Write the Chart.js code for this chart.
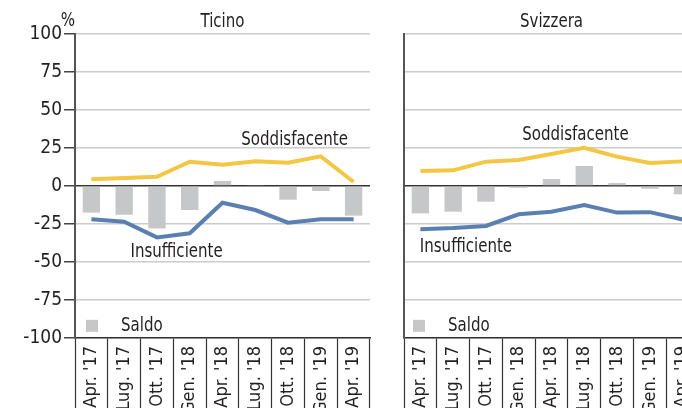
<!DOCTYPE html>
<html>
<head>
<meta charset="utf-8">
<script src="https://cdn.jsdelivr.net/npm/chart.js@4/dist/chart.umd.min.js"></script>
<style>
  html, body { margin: 0; padding: 0; background: #fff; overflow: hidden; width: 682px; height: 408px; }
  #wrap { position: relative; width: 682px; height: 408px; overflow: hidden; }
  canvas { position: absolute; top: 0; }
  #ticino { left: 0; }
  #svizzera { left: 380px; }
</style>
</head>
<body>
<div id="wrap">
  <canvas id="ticino" width="375" height="408"></canvas>
  <canvas id="svizzera" width="330" height="408"></canvas>
</div>
<script>
const categories = ["Apr. '17", "Lug. '17", "Ott. '17", "Gen. '18", "Apr. '18", "Lug. '18", "Ott. '18", "Gen. '19", "Apr. '19"];

const ticinoSaldo = [-17.5, -18.9, -27.9, -15.8, 3.3, 0.4, -9.0, -3.3, -19.5];
const ticinoSodd = [4.4, 5.3, 6.1, 16.0, 14.0, 16.2, 15.3, 19.5, 2.6];
const ticinoInsuff = [-21.9, -23.5, -33.8, -31.1, -11.0, -15.8, -24.1, -21.9, -21.9];

const svizzeraSaldo = [-18.0, -16.9, -10.3, -1.2, 4.6, 13.2, 2.0, -1.8, -5.5];
const svizzeraSodd = [9.9, 10.3, 16.0, 17.1, 21.0, 25.2, 19.3, 15.1, 16.2];
const svizzeraInsuff = [-28.5, -27.7, -26.3, -18.6, -16.9, -12.5, -17.5, -17.2, -22.0];

const yMin = -100;
const yMax = 100;
const yStep = 25;

const FONT = "'Liberation Sans Narrow', 'DejaVu Sans Condensed', sans-serif";
const TEXT = '#231f20';
const GRAY_BAR = '#c6c7c9';
const YELLOW = '#f3c644';
const BLUE = '#5a7fb0';

// narrow text: squeeze horizontally a bit to get closer to the condensed original
function narrowText(ctx, text, x, y, align) {
    ctx.save();
    ctx.translate(x, y);
    ctx.scale(0.88, 1);
    ctx.textAlign = align;
    ctx.fillText(text, 0, 0);
    ctx.restore();
}

// titles, line labels and the little "Saldo" legend
const panelText = {
    id: 'panelText',
    afterDraw(chart, args, opts) {
        const ctx = chart.ctx;
        const area = chart.chartArea;
        const x = chart.scales.x;
        const y = chart.scales.y;
        ctx.save();
        ctx.fillStyle = TEXT;
        ctx.textBaseline = 'middle';
        ctx.font = '19px ' + FONT;
        narrowText(ctx, opts.title, (area.left + area.right) / 2, 22, 'center');
        if (opts.percent) {
            narrowText(ctx, '%', area.left, 21, 'right');
        }
        opts.labels.forEach(l => {
            narrowText(ctx, l.text, x.getPixelForValue(l.x), y.getPixelForValue(l.y), 'center');
        });
        // legend
        const ly = y.getPixelForValue(-92);
        ctx.fillStyle = GRAY_BAR;
        ctx.fillRect(area.left + opts.legendX, ly - 6, 12, 12);
        ctx.fillStyle = TEXT;
        narrowText(ctx, 'Saldo', area.left + opts.legendX + 35, ly, 'left');
        ctx.restore();
    }
};

function makeChart(id, saldo, sodd, insuff, opts) {
    const ctx = document.getElementById(id).getContext('2d');
    return new Chart(ctx, {
        type: 'bar',
        data: {
            labels: categories,
            datasets: [
                {
                    type: 'line',
                    label: 'Soddisfacente',
                    data: sodd,
                    borderColor: YELLOW,
                    borderWidth: 4,
                    pointRadius: 0,
                    tension: 0,
                    order: 0
                },
                {
                    type: 'line',
                    label: 'Insufficiente',
                    data: insuff,
                    borderColor: BLUE,
                    borderWidth: 4,
                    pointRadius: 0,
                    tension: 0,
                    order: 0
                },
                {
                    label: 'Saldo',
                    data: saldo,
                    backgroundColor: GRAY_BAR,
                    categoryPercentage: 1,
                    barPercentage: 0.53,
                    order: 1
                }
            ]
        },
        options: {
            responsive: false,
            animation: false,
            layout: { padding: { top: 34, right: opts.padRight, left: 0, bottom: 0 } },
            plugins: {
                legend: { display: false },
                tooltip: { enabled: false },
                panelText: {
                    title: opts.title,
                    percent: opts.showTicks,
                    labels: opts.labels,
                    legendX: opts.legendX
                }
            },
            scales: {
                x: {
                    offset: true,
                    grid: {
                        offset: true,
                        drawOnChartArea: false,
                        tickLength: 75,
                        tickColor: '#333',
                        tickWidth: 1.2
                    },
                    border: { display: true, color: '#333', width: 1.5 },
                    ticks: {
                        autoSkip: false,
                        minRotation: 90,
                        maxRotation: 90,
                        padding: -67,
                        color: TEXT,
                        font: { family: FONT, size: 18 }
                    },
                    afterFit: scale => { scale.height = 70; }
                },
                y: {
                    min: yMin,
                    max: yMax,
                    ticks: {
                        display: opts.showTicks,
                        stepSize: yStep,
                        padding: 2,
                        color: TEXT,
                        font: { family: FONT, size: 19 }
                    },
                    grid: {
                        color: c => c.tick.value === 0 ? '#333' : '#cccccc',
                        lineWidth: 1.5,
                        drawTicks: opts.showTicks,
                        tickLength: 11,
                        tickColor: '#444',
                        tickWidth: 1.5
                    },
                    border: { display: true, color: '#555', width: 2 },
                    afterFit: scale => { scale.width = opts.axisWidth; }
                }
            }
        },
        plugins: [panelText]
    });
}

makeChart('ticino', ticinoSaldo, ticinoSodd, ticinoInsuff, {
    title: 'Ticino',
    showTicks: true,
    axisWidth: 75,
    padRight: 5,
    legendX: 11,
    labels: [
        { text: 'Soddisfacente', x: 6.2, y: 30.3 },
        { text: 'Insufficiente', x: 2.6, y: -43.4 }
    ]
});

makeChart('svizzera', svizzeraSaldo, svizzeraSodd, svizzeraInsuff, {
    title: 'Svizzera',
    showTicks: false,
    axisWidth: 24,
    padRight: 11,
    legendX: 9,
    labels: [
        { text: 'Soddisfacente', x: 4.73, y: 33.5 },
        { text: 'Insufficiente', x: 1.39, y: -40.1 }
    ]
});
</script>
</body>
</html>
